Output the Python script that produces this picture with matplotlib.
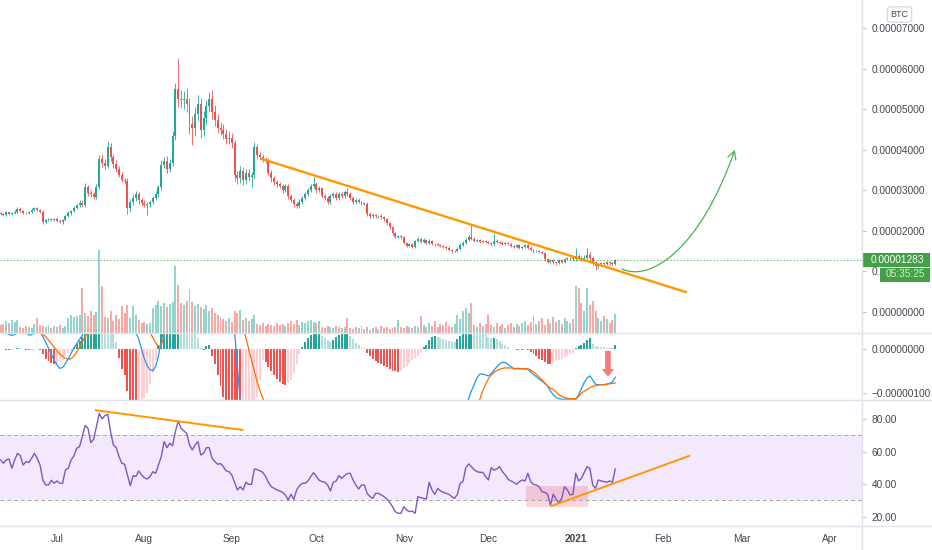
"""
Gráfico diário em BTC: velas + volume, MACD e RSI, com as linhas de tendência desenhadas à mão.
"""
import numpy as np
import pandas as pd
import matplotlib
matplotlib.use("Agg")
import matplotlib.pyplot as plt
from matplotlib.path import Path
from matplotlib.patches import FancyArrowPatch, Rectangle
from matplotlib.lines import Line2D

plt.rcParams["font.family"] = ["Liberation Sans", "DejaVu Sans"]

START = "2020-06-11"

# ─── dados (preço em satoshis = 1e-8 BTC) ────────────────────────────────────
first_open = 2440
close_sat = [
    2426, 2397, 2455, 2416, 2436, 2474, 2551, 2493, 2445, 2436,   # 0
    2465, 2513, 2570, 2522, 2474, 2224, 2263, 2282, 2272, 2301,   # 10
    2243, 2214, 2272, 2359, 2436, 2493, 2570, 2628, 2695, 2647,   # 20
    3080, 2936, 2907, 2840, 3080, 3773, 3677, 3609, 4062, 3821,   # 30
    3648, 3532, 3388, 3263, 3225, 2570, 2715, 2811, 2907, 2763,   # 40
    2695, 2647, 2667, 2715, 2811, 2907, 3080, 3629, 3725, 3532,   # 50
    3677, 4350, 5505, 5264, 5216, 5264, 5120, 4639, 4543, 4879,   # 60
    5120, 4494, 4783, 5072, 5264, 4927, 4735, 4543, 4494, 4398,   # 70
    4254, 4302, 4158, 3388, 3292, 3484, 3244, 3436, 3340, 3388,   # 80
    4062, 3869, 3821, 3773, 3725, 3436, 3292, 3196, 3148, 3100,   # 90
    3003, 3100, 2859, 2763, 2667, 2619, 2715, 2811, 2907, 3003,   # 100
    3100, 3148, 3003, 3051, 2859, 2811, 2715, 2859, 2907, 2811,   # 110
    2907, 2859, 2955, 2907, 2811, 2715, 2763, 2715, 2667, 2667,   # 120
    2426, 2359, 2397, 2359, 2378, 2330, 2282, 2186, 2089, 1945,   # 130
    1849, 1878, 1839, 1705, 1628, 1685, 1608, 1753, 1801, 1724,   # 140
    1782, 1705, 1753, 1685, 1666, 1657, 1628, 1608, 1589, 1531,   # 150
    1493, 1512, 1560, 1657, 1705, 1782, 1849, 1801, 1753, 1772,   # 160
    1733, 1753, 1724, 1705, 1666, 1753, 1724, 1705, 1685, 1705,   # 170
    1666, 1628, 1608, 1647, 1589, 1608, 1657, 1589, 1531, 1493,   # 180
    1512, 1474, 1454, 1301, 1243, 1272, 1224, 1204, 1272, 1243,   # 190
    1301, 1320, 1339, 1301, 1368, 1320, 1301, 1339, 1416, 1339,   # 200
    1224, 1127, 1176, 1204, 1185, 1224, 1195, 1176, 1283,         # 210
]
wick_up = [
    30, 25, 40, 20, 30, 35, 45, 25, 20, 30,
    35, 40, 30, 25, 20, 40, 30, 25, 35, 20,
    30, 40, 25, 35, 45, 30, 50, 40, 60, 70,
    90, 60, 80, 50, 70, 100, 120, 90, 144, 110,
    80, 90, 60, 70, 50, 80, 60, 90, 70, 60,
    50, 60, 40, 50, 60, 70, 60, 120, 90, 110,
    100, 120, 150, 759, 200, 180, 260, 150, 200, 170,
    220, 160, 180, 150, 164, 200, 180, 150, 140, 130,
    120, 150, 110, 90, 100, 110, 80, 100, 90, 70,
    124, 90, 80, 70, 60, 80, 70, 60, 50, 55,
    60, 50, 55, 45, 40, 50, 60, 55, 50, 60,
    50, 192, 60, 50, 40, 45, 55, 50, 60, 45,
    50, 40, 55, 96, 40, 45, 35, 40, 30, 35,
    40, 30, 35, 30, 25, 30, 35, 30, 25, 30,
    25, 30, 20, 25, 30, 20, 25, 30, 35, 25,
    30, 25, 35, 20, 25, 30, 20, 25, 20, 25,
    20, 25, 30, 35, 40, 45, 60, 289, 40, 30,
    35, 25, 30, 25, 30, 192, 40, 30, 35, 25,
    25, 30, 20, 25, 30, 25, 30, 35, 25, 20,
    25, 20, 25, 30, 25, 20, 25, 20, 30, 25,
    30, 35, 25, 30, 221, 60, 50, 70, 164, 60,
    40, 30, 25, 30, 20, 25, 20, 25, 30,
]
wick_dn = [
    25, 30, 20, 35, 25, 20, 30, 25, 35, 20,
    30, 25, 35, 30, 40, 60, 35, 30, 25, 40,
    35, 30, 40, 30, 25, 35, 30, 40, 35, 50,
    60, 80, 70, 60, 50, 40, 90, 80, 70, 100,
    90, 80, 70, 60, 80, 156, 100, 80, 70, 90,
    80, 60, 250, 70, 60, 50, 60, 80, 90, 100,
    90, 80, 120, 200, 180, 220, 200, 250, 434, 200,
    180, 200, 150, 160, 140, 170, 150, 130, 120, 140,
    110, 100, 120, 150, 130, 110, 120, 100, 110, 260,
    80, 90, 70, 80, 60, 70, 80, 60, 70, 50,
    60, 50, 70, 60, 80, 60, 50, 60, 45, 50,
    40, 50, 60, 45, 50, 40, 55, 45, 50, 40,
    45, 40, 50, 45, 40, 50, 45, 35, 40, 30,
    50, 40, 35, 30, 35, 30, 40, 35, 45, 40,
    35, 30, 40, 35, 30, 35, 30, 25, 30, 35,
    25, 30, 25, 35, 30, 25, 30, 25, 30, 35,
    30, 25, 30, 25, 20, 30, 25, 35, 30, 25,
    30, 25, 30, 25, 35, 30, 25, 20, 25, 30,
    25, 30, 25, 20, 30, 25, 30, 25, 35, 30,
    25, 30, 35, 40, 30, 45, 30, 35, 25, 30,
    30, 25, 30, 35, 40, 30, 45, 35, 40, 50,
    60, 96, 40, 30, 35, 25, 30, 20, 25,
]
volume = [
    8, 9, 12, 10, 13, 11, 13, 6, 5, 7,
    6, 5, 9, 15, 8, 7, 6, 8, 5, 7,
    6, 8, 5, 7, 15, 18, 16, 17, 18, 45,
    20, 17, 22, 18, 21, 83, 47, 16, 15, 22,
    12, 18, 14, 27, 20, 28, 15, 27, 18, 13,
    10, 11, 9, 10, 25, 28, 32, 27, 30, 26,
    29, 31, 67, 48, 30, 28, 32, 44, 31, 27,
    29, 26, 24, 28, 22, 25, 20, 18, 16, 14,
    12, 15, 11, 22, 20, 23, 13, 15, 12, 14,
    18, 9, 8, 10, 7, 9, 8, 7, 10, 8,
    9, 7, 10, 12, 9, 13, 8, 11, 10, 12,
    13, 11, 10, 12, 6, 5, 7, 6, 5, 7,
    6, 5, 6, 15, 5, 4, 6, 5, 7, 4,
    6, 3, 5, 6, 4, 7, 5, 6, 4, 5,
    6, 13, 6, 5, 7, 6, 5, 7, 6, 17,
    8, 6, 10, 7, 12, 6, 9, 8, 11, 7,
    6, 9, 18, 14, 22, 25, 20, 30, 8, 6,
    10, 7, 9, 18, 8, 6, 10, 7, 9, 5,
    8, 10, 6, 9, 7, 10, 12, 8, 11, 17,
    9, 12, 15, 8, 14, 10, 16, 11, 13, 9,
    15, 12, 10, 14, 47, 45, 30, 22, 45, 28,
    32, 22, 15, 12, 17, 14, 10, 13, 19,
]
# MACD em 1e-8 BTC
macd_hist = [
    0, -1, -2, -3, -2, 1, 3, 2, -1, -2,
    -3, -3, -2, 1, -2, -12, -22, -28, -32, -34,
    -33, -30, -24, -17, -10, -4, 5, 12, 19, 28,
    35, 45, 50, 55, 60, 70, 62, 55, 50, 42,
    35, 15, -20, -45, -60, -95, -125, -140, -145, -138,
    -125, -112, -100, -80, -55, -25, 10, 40, 70, 90,
    110, 130, 160, 170, 160, 140, 120, 90, 70, 40,
    25, 3, -3, 6, 8, -15, -35, -60, -85, -110,
    -130, -150, -170, -200, -220, -230, -215, -195, -175, -155,
    -130, -110, -70, -25, -30, -40, -50, -60, -68, -75,
    -80, -82, -78, -70, -55, -35, -12, 5, 15, 25,
    32, 38, 40, 42, 30, 24, 20, 16, 20, 28,
    32, 35, 38, 40, 30, 22, 14, 8, 5, 2,
    -10, -16, -22, -27, -31, -34, -38, -42, -46, -49,
    -51, -52, -50, -44, -38, -32, -26, -20, -15, -8,
    5, 10, 20, 27, 30, 28, 25, 22, 20, 18,
    17, 16, 22, 30, 36, 42, 48, 50, 47, 43,
    40, 36, 33, 28, 24, 26, 22, 18, 12, 8,
    4, 1, -1, -2, -2, -3, -2, -3, -6, -12,
    -17, -22, -26, -30, -33, -34, -32, -28, -25, -22,
    -18, -15, -12, -8, 3, 6, 10, 14, 20, 25,
    12, 6, 5, 4, 3.5, 3, 2.5, 2, 10,
]
macd_line = [
    42, 40, 37, 33, 31, 33, 38, 41, 40, 37,
    32, 32, 37, 40, 38, 28, 15, 2, -12, -25,
    -36, -44, -42, -33, -22, -10, 2, 12, 22, 31,
    60, 80, 95, 105, 120, 160, 185, 200, 230, 240,
    235, 225, 200, 175, 150, 110, 75, 50, 38, 22,
    0, -22, -38, -47, -49, -40, -15, 20, 45, 70,
    95, 140, 230, 300, 350, 385, 400, 390, 375, 370,
    370, 340, 320, 320, 330, 320, 300, 270, 240, 205,
    170, 140, 100, 40, -40, -120, -150, -175, -190, -200,
    -195, -195, -200, -205, -210, -215, -225, -235, -245, -255,
    -262, -268, -265, -260, -250, -235, -222, -208, -195, -182,
    -172, -163, -160, -158, -162, -166, -170, -168, -165, -160,
    -156, -152, -148, -146, -150, -156, -163, -168, -170, -172,
    -180, -188, -195, -202, -208, -214, -222, -230, -240, -250,
    -258, -265, -268, -268, -266, -262, -258, -254, -248, -240,
    -232, -222, -212, -204, -198, -194, -190, -187, -184, -182,
    -181, -180, -172, -162, -150, -135, -112, -95, -80, -65,
    -57, -57, -59, -61, -56, -48, -40, -34, -30, -31,
    -35, -40, -45, -45, -45, -45, -45, -46, -52, -58,
    -63, -68, -73, -78, -85, -95, -104, -110, -113, -114,
    -114, -114, -114, -114, -114, -104, -90, -76, -66, -61,
    -70, -80, -81, -81, -81, -80, -78, -75, -64,
]
signal_line = [
    40, 40, 39, 39, 38, 38, 39, 40, 40, 39,
    38, 38, 39, 40, 39, 34, 28, 20, 12, 4,
    -4, -11, -17, -21, -24, -22, -16, -7, 4, 16,
    28, 40, 55, 70, 88, 105, 125, 145, 165, 180,
    195, 205, 205, 200, 190, 175, 155, 130, 110, 90,
    70, 55, 45, 37, 26, 14, 5, 8, 32, 55,
    85, 110, 145, 180, 215, 245, 270, 295, 310, 325,
    335, 340, 340, 335, 330, 330, 325, 315, 305, 290,
    270, 250, 225, 195, 160, 120, 60, 25, 0, -25,
    -50, -75, -95, -112, -125, -140, -155, -168, -180, -192,
    -204, -215, -222, -228, -231, -230, -226, -220, -212, -206,
    -200, -193, -186, -180, -176, -174, -173, -172, -170, -168,
    -165, -162, -160, -157, -155, -155, -156, -158, -160, -163,
    -166, -170, -175, -180, -186, -192, -198, -205, -212, -220,
    -228, -235, -241, -245, -248, -250, -251, -250, -248, -246,
    -242, -238, -233, -227, -222, -217, -212, -208, -204, -200,
    -196, -192, -188, -182, -176, -168, -158, -145, -132, -121,
    -114, -95, -80, -68, -59, -53, -49, -46, -44, -43,
    -43, -43, -44, -44, -44, -45, -45, -45, -48, -52,
    -57, -64, -70, -77, -84, -89, -92, -98, -104, -108,
    -110, -112, -113, -113, -113, -108, -100, -96, -92, -88,
    -85, -83, -82, -81, -81, -80, -79, -78, -77,
]
rsi = [
    54.8, 52.8, 54.8, 55.4, 49.7, 54.8, 58.9, 57.5, 51.7, 53.8,
    53.2, 55.8, 58.9, 55.8, 51.7, 42.5, 39.4, 39.4, 42.3, 40.5,
    41.9, 40.5, 40.5, 48.7, 49.7, 54.8, 57.3, 62.0, 63.0, 69.2,
    76.0, 74.3, 65.5, 67.5, 75.3, 83.5, 80.0, 82.1, 82.9, 72.3,
    64.1, 62.4, 56.9, 52.8, 52.2, 45.6, 39.0, 45.2, 44.6, 48.1,
    45.6, 43.9, 43.1, 44.6, 47.6, 46.6, 51.7, 56.9, 66.1, 62.4,
    65.1, 63.6, 72.3, 78.8, 74.3, 72.7, 71.2, 64.1, 61.0, 64.1,
    66.1, 57.9, 58.9, 62.4, 62.4, 55.8, 53.8, 52.2, 52.6, 50.7,
    48.1, 47.6, 45.6, 41.1, 36.4, 38.4, 36.4, 41.1, 39.8, 39.8,
    49.3, 48.9, 48.1, 47.2, 44.6, 41.1, 38.4, 37.4, 36.4, 35.8,
    34.9, 33.3, 30.2, 33.7, 30.6, 36.4, 39.0, 40.5, 40.5, 41.9,
    44.6, 47.0, 44.6, 42.3, 41.5, 41.1, 39.4, 35.8, 41.1, 41.9,
    45.2, 43.5, 45.2, 46.4, 46.6, 42.5, 39.4, 37.0, 39.4, 39.4,
    34.3, 32.3, 31.2, 34.3, 34.3, 33.3, 32.3, 30.8, 28.8, 26.1,
    23.0, 22.0, 22.0, 26.1, 24.0, 23.0, 23.4, 22.0, 32.3, 31.6,
    31.2, 30.8, 41.1, 36.4, 33.7, 37.4, 35.8, 34.9, 34.3, 33.7,
    32.3, 31.2, 33.7, 40.5, 41.5, 50.1, 52.4, 50.7, 48.7, 47.6,
    47.2, 47.2, 44.6, 42.5, 50.1, 48.5, 49.3, 50.7, 47.6, 45.6,
    42.9, 41.9, 41.1, 39.8, 41.5, 42.5, 41.9, 46.6, 41.5, 39.8,
    39.4, 38.4, 35.3, 34.9, 33.7, 27.1, 33.7, 30.8, 28.2, 31.2,
    38.4, 36.4, 33.3, 33.7, 46.6, 41.9, 43.5, 47.2, 50.7, 49.7,
    39.4, 37.4, 42.5, 41.9, 41.5, 41.1, 41.9, 41.1, 49.3,
]

last_price = 0.00001283
countdown = "05:35:25"
price_ticks = [0, 1e-5, 2e-5, 3e-5, 4e-5, 5e-5, 6e-5, 7e-5]
# o rótulo de 0.00001000 fica tapado pela contagem, só "0." aparece
price_tick_labels = ["0.00000000", "0.", "0.00002000", "0.00003000",
                     "0.00004000", "0.00005000", "0.00006000", "0.00007000"]
macd_ticks = [0, -100]
macd_tick_labels = ["0.00000000", "\u22120.00000100"]
rsi_ticks = [20, 40, 60, 80]

# desenhos do autor (índice do dia, valor)
trend_price_x, trend_price_y = [92.7, 243.0], [3772e-8, 491e-8]
trend_rsi_top_x, trend_rsi_top_y = [33.8, 85.8], [85.4, 73.3]
trend_rsi_low_x, trend_rsi_low_y = [195.4, 244.2], [26.5, 57.3]
rsi_box = (186.3, 25.7, 22.0, 12.9)           # x, y, largura, altura
green_path = [(220.4, 1058e-8), (230.3, 738e-8), (248.0, 1527e-8), (260.4, 3996e-8)]
red_arrow = (215.4, -4, -63)                  # x, topo, ponta

n = len(close_sat)
for arr in (wick_up, wick_dn, volume, macd_hist, macd_line, signal_line, rsi):
    assert len(arr) == n, len(arr)

# ─── cores ───────────────────────────────────────────────────────────────────
UP, DN = "#26a69a", "#ef5350"
VUP, VDN = "#95d3cd", "#f7a9a7"
TXT = "#434651"
GRID = "#e0e3eb"
RSI_BAND = "#f3e8fc"
BODY_W = 0.7

W, H = 932, 550
XR = 862


def pane(y0, y1):
    return [0, 1 - y1 / H, XR / W, (y1 - y0) / H]


def fx(px):
    return px / W


def fy(py):
    return 1 - py / H


fig = plt.figure(figsize=(W / 100, H / 100), dpi=100)
fig.patch.set_facecolor("white")

ax_vol = fig.add_axes(pane(0, 333))
ax = fig.add_axes(pane(0, 333))
ax.patch.set_visible(False)
ax_macd = fig.add_axes(pane(333, 400))
ax_rsi = fig.add_axes(pane(400, 526))

x = np.arange(n)
XLIM = (-0.2, 305.5)
for a in (ax_vol, ax, ax_macd, ax_rsi):
    a.set_xlim(*XLIM)
    for s in a.spines.values():
        s.set_visible(False)

# ─── velas + volume ──────────────────────────────────────────────────────────
c = np.array(close_sat, float) * 1e-8
o = np.r_[first_open, close_sat[:-1]].astype(float) * 1e-8
hi = np.maximum(o, c) + np.array(wick_up) * 1e-8
lo = np.minimum(o, c) - np.array(wick_dn) * 1e-8
up = c >= o

ax_vol.bar(x, volume, width=BODY_W, color=np.where(up, VUP, VDN), lw=0)
ax_vol.set_ylim(0, 333)
ax_vol.axis("off")

ax.vlines(x, lo, hi, colors=np.where(up, UP, DN), lw=0.6)
ax.bar(x, np.maximum(np.abs(c - o), 12e-8), bottom=np.minimum(o, c), width=BODY_W,
       color=np.where(up, UP, DN), lw=0)
ax.axhline(last_price, color="#4caf50", lw=0.8, ls=(0, (1, 2)))
ax.plot(trend_price_x, trend_price_y, color="#ff9800", lw=1.7, solid_capstyle="round")

gp = Path(green_path, [Path.MOVETO, Path.CURVE4, Path.CURVE4, Path.CURVE4])
ax.add_patch(FancyArrowPatch(path=gp, arrowstyle="->,head_length=0.55,head_width=0.3",
                             mutation_scale=10, color="#4caf50", lw=0.9))

ax.set_ylim(-0.52e-5, 7.694e-5)
ax.set_xticks([])
ax.yaxis.tick_right()
ax.set_yticks(price_ticks)
ax.set_yticklabels(price_tick_labels)

# ─── MACD ────────────────────────────────────────────────────────────────────
h = np.array(macd_hist, float)
prev = np.r_[h[0], h[:-1]]
hcol = np.where(h >= 0, np.where(h > prev, "#26a69a", "#b2dfdb"),
                np.where(h < prev, "#ef5350", "#ffcdd2"))
ax_macd.bar(x, h, width=BODY_W, color=hcol, lw=0)
ax_macd.plot(x, macd_line, color="#2196f3", lw=0.9)
ax_macd.plot(x, signal_line, color="#ff6d00", lw=0.9)
ax_macd.annotate("", xy=(red_arrow[0], red_arrow[2]), xytext=(red_arrow[0], red_arrow[1]),
                 arrowprops=dict(arrowstyle="simple,head_width=0.9,head_length=0.55,tail_width=0.4",
                                 mutation_scale=10, color="#f7797d", lw=0,
                                 shrinkA=0, shrinkB=0))
ax_macd.set_ylim(-115.9, 36.4)
ax_macd.set_xticks([])
ax_macd.yaxis.tick_right()
ax_macd.set_yticks(macd_ticks)
ax_macd.set_yticklabels(macd_tick_labels)

# ─── RSI ─────────────────────────────────────────────────────────────────────
ax_rsi.axhspan(30, 70, color=RSI_BAND, lw=0)
for lvl in (70, 30):
    ax_rsi.axhline(lvl, color="#a3a6af", lw=0.7, ls=(0, (4, 3)))
ax_rsi.add_patch(Rectangle(rsi_box[:2], rsi_box[2], rsi_box[3],
                           facecolor="#f23645", alpha=0.2, lw=0))
ax_rsi.plot(x, rsi, color="#7e57c2", lw=1.0)
ax_rsi.plot(trend_rsi_top_x, trend_rsi_top_y, color="#ff9800", lw=1.4)
ax_rsi.plot(trend_rsi_low_x, trend_rsi_low_y, color="#ff9800", lw=1.4)
ax_rsi.set_ylim(14.2, 91.7)
ax_rsi.yaxis.tick_right()
ax_rsi.set_yticks(rsi_ticks)
ax_rsi.set_yticklabels([f"{v:.2f}" for v in rsi_ticks])

start = pd.Timestamp(START)
months = pd.date_range("2020-07-01", "2021-04-01", freq="MS")
ax_rsi.set_xticks((months - start).days)
ax_rsi.set_xticklabels(["2021" if m.month == 1 else m.strftime("%b") for m in months])
for lbl, m in zip(ax_rsi.get_xticklabels(), months):
    if m.month == 1:
        lbl.set_fontweight("bold")
ax_rsi.tick_params(axis="x", length=0, pad=6, labelsize=7.3, labelcolor=TXT)

for a in (ax, ax_macd, ax_rsi):
    a.tick_params(axis="y", length=3, width=0.6, color="#b2b5be", labelsize=7.3,
                  labelcolor=TXT, pad=4)

# ─── separadores e etiquetas da escala ───────────────────────────────────────
for yy in (333, 400, 526):
    fig.add_artist(Line2D([0, 1], [fy(yy), fy(yy)], color=GRID, lw=1))
fig.add_artist(Line2D([fx(XR), fx(XR)], [0, 1], color=GRID, lw=1))

fig.add_artist(Rectangle((fx(863), fy(267)), fx(930) - fx(863), fy(252.5) - fy(267),
                         transform=fig.transFigure, facecolor="#43a047", lw=0))
fig.text(fx(871), fy(259.9), f"{last_price:.8f}", color="white", fontsize=7.3,
         ha="left", va="center")
fig.add_artist(Rectangle((fx(880), fy(281.5)), fx(930) - fx(880), fy(267.5) - fy(281.5),
                         transform=fig.transFigure, facecolor="#43a047", lw=0))
fig.text(fx(905), fy(274.5), countdown, color="#dcedc8", fontsize=7.3,
         ha="center", va="center")

fig.text(fx(899.5), fy(14.5), "BTC", color=TXT, fontsize=6.5, ha="center", va="center",
         bbox=dict(boxstyle="round,pad=0.35,rounding_size=0.3", fc="white",
                   ec="#d1d4dc", lw=0.8))

fig.savefig("out.png", dpi=100, facecolor="white")
plt.close(fig)
